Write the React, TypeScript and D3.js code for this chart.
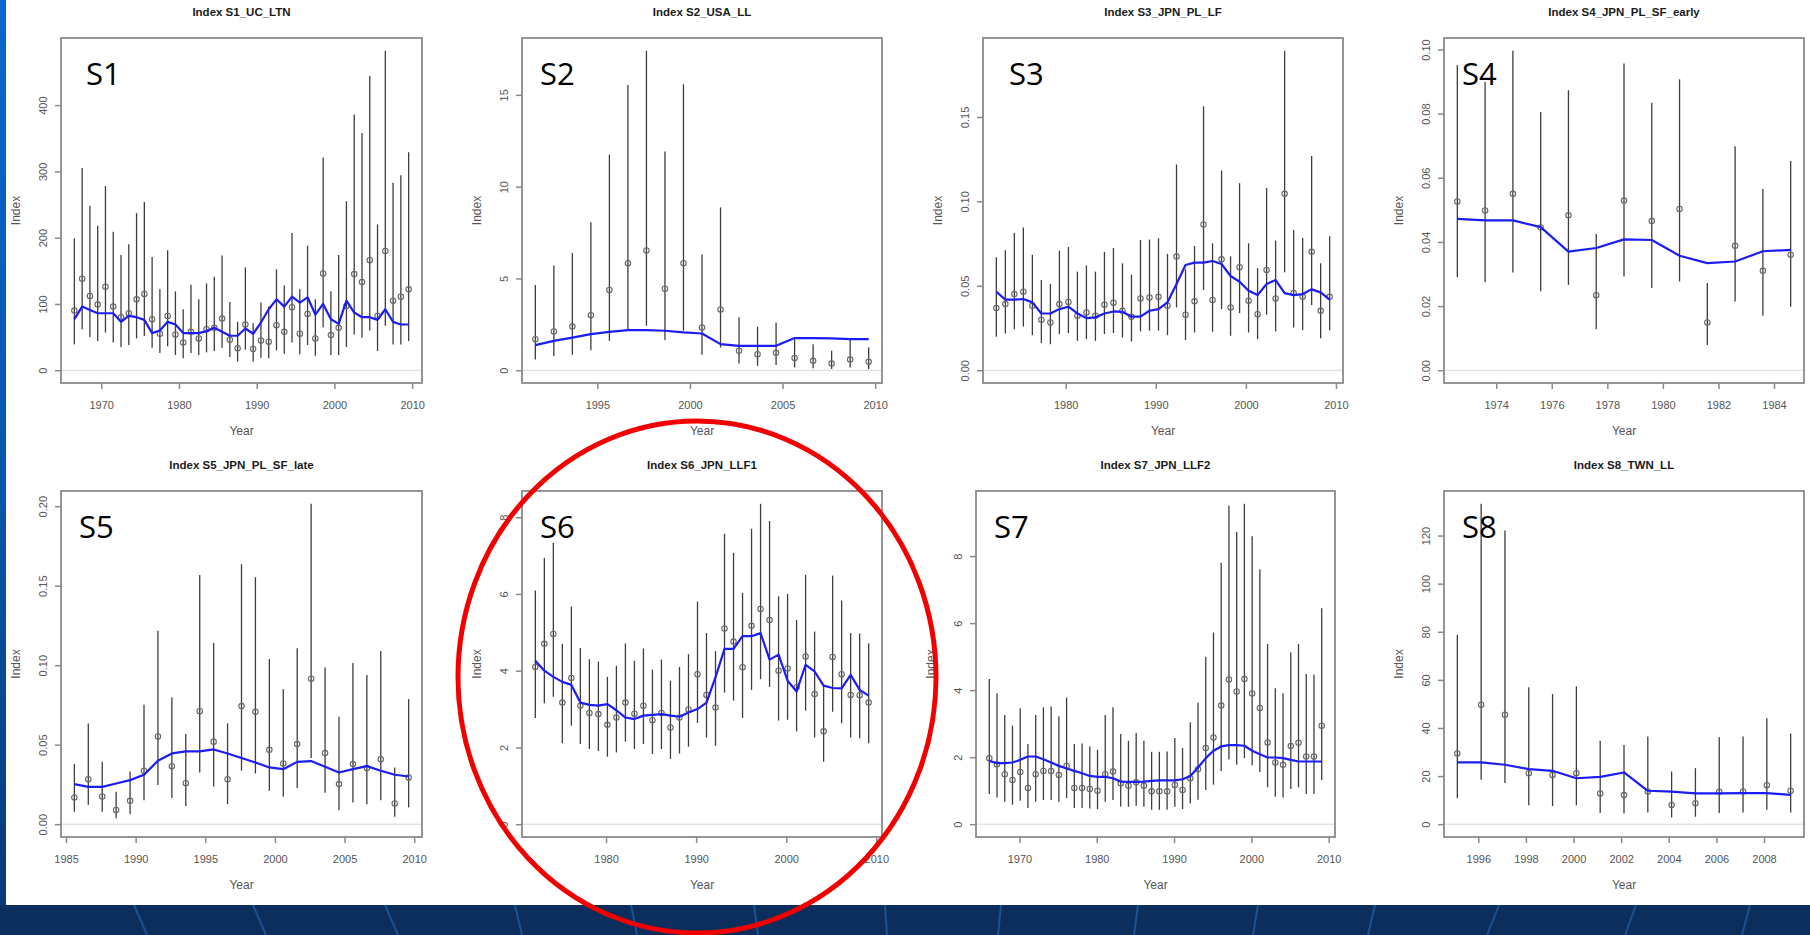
import { useEffect, useRef } from 'react';
import * as d3 from 'd3';

const WIDTH = 1810;
const HEIGHT = 935;

// S1 UC LTN, 1966-2009
const s1Start = 1966;
const s1Index = [90, 138, 112, 99, 126, 96, 80, 86, 107, 115, 77, 55, 82, 54, 42, 58, 48, 62, 64, 78, 46, 33, 69, 32, 45, 43, 68, 58, 95, 55, 85, 48, 146, 53, 64, 97, 145, 133, 166, 82, 180, 105, 111, 122];
const s1Upper = [199, 305, 248, 218, 278, 209, 174, 190, 237, 254, 171, 122, 181, 119, 92, 129, 107, 131, 141, 173, 103, 73, 155, 71, 102, 96, 152, 128, 207, 122, 188, 107, 321, 119, 174, 255, 386, 358, 444, 220, 482, 283, 294, 329];
const s1Lower = [39, 62, 50, 44, 57, 42, 35, 38, 48, 52, 34, 26, 36, 23, 18, 26, 23, 27, 29, 34, 20, 13, 31, 13, 19, 18, 30, 25, 42, 24, 38, 22, 65, 23, 23, 35, 54, 49, 60, 29, 67, 39, 39, 44];
const s1Fit = [77, 96, 91, 86, 86, 86, 73, 82, 80, 76, 56, 60, 73, 69, 56, 56, 56, 59, 64, 58, 52, 52, 63, 55, 72, 92, 107, 96, 111, 102, 110, 84, 100, 77, 70, 105, 87, 80, 80, 76, 92, 73, 69, 69];

// S2 USA LL, 1991-2009
const s2Start = 1991;
const s2Index = [1.69, 2.11, 2.38, 3.0, 4.37, 5.83, 6.52, 4.44, 5.83, 2.33, 3.31, 1.06, 0.87, 0.95, 0.67, 0.51, 0.36, 0.58, 0.46];
const s2Upper = [4.64, 5.7, 6.39, 8.06, 11.74, 15.53, 17.4, 11.92, 15.57, 6.3, 8.87, 2.88, 2.37, 2.6, 1.69, 1.42, 1.06, 1.69, 1.24];
const s2Lower = [0.58, 0.78, 0.84, 1.09, 1.6, 2.18, 2.42, 1.64, 2.15, 0.84, 1.24, 0.36, 0.24, 0.29, 0.15, 0.11, 0.07, 0.15, 0.07];
const s2Fit = [1.37, 1.6, 1.78, 1.97, 2.09, 2.18, 2.18, 2.15, 2.06, 2.0, 1.42, 1.33, 1.33, 1.33, 1.75, 1.75, 1.73, 1.69, 1.69];

// S3 JPN PL LF, 1972-2009
const s3Start = 1972;
const s3Index = [0.0368, 0.0392, 0.0451, 0.0465, 0.0382, 0.0299, 0.0283, 0.0392, 0.0404, 0.0323, 0.0342, 0.0323, 0.0388, 0.04, 0.0352, 0.0317, 0.0425, 0.0431, 0.0435, 0.0382, 0.0673, 0.0329, 0.0408, 0.0863, 0.0416, 0.0657, 0.0372, 0.061, 0.0412, 0.0332, 0.0594, 0.0425, 0.1045, 0.0457, 0.0435, 0.0701, 0.0352, 0.0435];
const s3Upper = [0.0669, 0.071, 0.0813, 0.0845, 0.0683, 0.0534, 0.0511, 0.0708, 0.073, 0.0584, 0.0621, 0.0584, 0.0701, 0.0724, 0.0633, 0.0566, 0.0772, 0.0774, 0.0782, 0.0689, 0.1219, 0.0598, 0.0736, 0.1563, 0.0752, 0.1183, 0.0675, 0.1108, 0.0752, 0.0604, 0.1079, 0.0768, 0.1892, 0.0831, 0.0784, 0.1269, 0.0633, 0.0794];
const s3Lower = [0.0198, 0.0218, 0.0243, 0.0259, 0.0208, 0.016, 0.0154, 0.0214, 0.022, 0.0174, 0.0184, 0.0174, 0.0214, 0.022, 0.0194, 0.017, 0.023, 0.0234, 0.0234, 0.0208, 0.0372, 0.0178, 0.0224, 0.0475, 0.0228, 0.0362, 0.0204, 0.0338, 0.0224, 0.0184, 0.0329, 0.023, 0.058, 0.0253, 0.0237, 0.0386, 0.019, 0.0237];
const s3Fit = [0.0465, 0.0418, 0.0418, 0.0422, 0.0402, 0.0336, 0.0336, 0.0362, 0.0376, 0.0336, 0.0309, 0.0313, 0.0336, 0.0348, 0.0346, 0.0317, 0.0317, 0.0352, 0.0362, 0.0402, 0.0511, 0.0623, 0.0637, 0.0637, 0.0647, 0.0629, 0.0558, 0.0524, 0.0471, 0.0445, 0.0511, 0.0534, 0.0457, 0.0445, 0.0451, 0.0479, 0.0461, 0.0418];

// S4 JPN PL SF early, 1972-1984
const s4Start = 1972;
const s4Index = [0.0526, 0.0498, 0.055, 0.0445, 0.0483, 0.0234, 0.0529, 0.0465, 0.0503, 0.0149, 0.0388, 0.031, 0.036];
const s4Upper = [0.0951, 0.0899, 0.0996, 0.0805, 0.0873, 0.0425, 0.0956, 0.0834, 0.0907, 0.0272, 0.0698, 0.0565, 0.0652];
const s4Lower = [0.029, 0.0274, 0.0305, 0.0246, 0.0266, 0.0128, 0.0292, 0.0256, 0.0277, 0.0079, 0.0214, 0.017, 0.0198];
const s4Fit = [0.0472, 0.0467, 0.0467, 0.0446, 0.037, 0.0381, 0.0408, 0.0406, 0.0357, 0.0334, 0.0339, 0.0371, 0.0375];

// S5 JPN PL SF late, 1985-2009
const s5Start = 1985;
const s5Index = [0.0168, 0.0283, 0.0174, 0.009, 0.0147, 0.0336, 0.0552, 0.0365, 0.0258, 0.0711, 0.0518, 0.0283, 0.0743, 0.0707, 0.0468, 0.0382, 0.0504, 0.0915, 0.0447, 0.0252, 0.0378, 0.0353, 0.0409, 0.013, 0.0294];
const s5Upper = [0.0378, 0.0634, 0.0392, 0.0204, 0.0332, 0.0751, 0.1217, 0.0797, 0.0567, 0.1568, 0.114, 0.0634, 0.1635, 0.1553, 0.1039, 0.0848, 0.1106, 0.2015, 0.0986, 0.0676, 0.1014, 0.0938, 0.1089, 0.0357, 0.0787];
const s5Lower = [0.0078, 0.0122, 0.0078, 0.0038, 0.0063, 0.0151, 0.0246, 0.0164, 0.0115, 0.0325, 0.0237, 0.0126, 0.0336, 0.0319, 0.021, 0.0172, 0.0227, 0.0416, 0.0197, 0.0088, 0.0136, 0.0126, 0.0151, 0.0046, 0.0105];
const s5Fit = [0.0252, 0.0235, 0.0235, 0.0256, 0.0277, 0.0311, 0.0399, 0.0445, 0.0458, 0.0458, 0.047, 0.0445, 0.0416, 0.0388, 0.0357, 0.0346, 0.0392, 0.0397, 0.0361, 0.0325, 0.0346, 0.0365, 0.0336, 0.0311, 0.03];

// S6 JPN LLF1, 1972-2009
const s6Start = 1972;
const s6Index = [4.1, 4.7, 4.96, 3.17, 3.81, 3.09, 2.9, 2.87, 2.59, 2.78, 3.17, 2.88, 3.09, 2.71, 2.9, 2.52, 2.78, 2.99, 3.91, 3.37, 3.04, 5.1, 4.76, 4.09, 5.17, 5.61, 5.32, 4.0, 4.06, 3.57, 4.37, 3.39, 2.42, 4.36, 3.91, 3.37, 3.36, 3.17];
const s6Upper = [6.09, 6.94, 7.33, 4.7, 5.67, 4.59, 4.3, 4.24, 3.84, 4.13, 4.71, 4.26, 4.58, 4.03, 4.29, 3.74, 4.1, 4.43, 5.8, 4.98, 4.51, 7.57, 7.07, 6.03, 7.7, 8.35, 7.9, 5.94, 6.0, 5.32, 6.5, 5.02, 3.61, 6.48, 5.83, 4.98, 4.97, 4.71];
const s6Lower = [2.77, 3.15, 3.32, 2.11, 2.57, 2.09, 1.96, 1.91, 1.76, 1.87, 2.15, 1.96, 2.09, 1.83, 1.96, 1.7, 1.84, 2.02, 2.64, 2.26, 2.04, 3.43, 3.22, 2.77, 3.5, 3.78, 3.58, 2.7, 2.72, 2.42, 2.96, 2.26, 1.63, 2.93, 2.63, 2.26, 2.24, 2.11];
const s6Fit = [4.26, 4.0, 3.84, 3.71, 3.63, 3.17, 3.11, 3.09, 3.13, 2.97, 2.78, 2.74, 2.83, 2.85, 2.87, 2.83, 2.8, 2.91, 3.0, 3.17, 3.83, 4.57, 4.57, 4.9, 4.9, 4.98, 4.29, 4.42, 3.74, 3.46, 4.15, 3.98, 3.61, 3.55, 3.54, 3.89, 3.5, 3.35];

// S7 JPN LLF2, 1966-2009
const s7Start = 1966;
const s7Index = [1.97, 1.79, 1.49, 1.32, 1.56, 1.08, 1.49, 1.59, 1.59, 1.47, 1.74, 1.08, 1.08, 1.05, 1.0, 1.49, 1.57, 1.22, 1.15, 1.25, 1.15, 0.98, 0.98, 0.98, 1.17, 1.02, 1.37, 1.64, 2.27, 2.59, 3.54, 4.32, 3.96, 4.33, 3.9, 3.47, 2.44, 1.84, 1.77, 2.33, 2.43, 2.02, 2.02, 2.94];
const s7Upper = [4.33, 3.91, 3.26, 2.94, 3.46, 2.39, 3.26, 3.49, 3.51, 3.22, 3.78, 2.39, 2.41, 2.32, 2.22, 3.26, 3.49, 2.69, 2.49, 2.72, 2.49, 2.16, 2.16, 2.17, 2.57, 2.27, 3.04, 3.62, 5.0, 5.72, 7.8, 9.51, 8.72, 9.56, 8.59, 7.6, 5.38, 4.06, 3.91, 5.13, 5.38, 4.48, 4.46, 6.44];
const s7Lower = [0.9, 0.8, 0.67, 0.58, 0.7, 0.48, 0.67, 0.72, 0.72, 0.67, 0.78, 0.48, 0.48, 0.47, 0.45, 0.67, 0.72, 0.53, 0.52, 0.55, 0.52, 0.43, 0.43, 0.43, 0.52, 0.45, 0.62, 0.73, 1.02, 1.18, 1.59, 1.94, 1.77, 1.97, 1.76, 1.56, 1.1, 0.82, 0.8, 1.05, 1.1, 0.9, 0.9, 1.32];
const s7Fit = [1.89, 1.82, 1.82, 1.84, 1.92, 2.02, 2.02, 1.94, 1.84, 1.74, 1.66, 1.59, 1.52, 1.44, 1.41, 1.41, 1.37, 1.27, 1.26, 1.26, 1.27, 1.29, 1.31, 1.31, 1.31, 1.34, 1.44, 1.69, 1.97, 2.19, 2.32, 2.36, 2.36, 2.34, 2.19, 2.09, 1.99, 1.99, 1.97, 1.92, 1.87, 1.87, 1.87, 1.87];

// S8 TWN LL, 1995-2009
const s8Start = 1995;
const s8Index = [29.4, 49.7, 45.5, 21.2, 20.5, 21.2, 12.8, 12.1, 13.6, 8.0, 8.7, 13.5, 13.6, 16.2, 13.9];
const s8Upper = [78.8, 133.2, 122.1, 56.9, 54.1, 57.3, 34.7, 32.9, 36.5, 21.9, 23.3, 36.1, 36.5, 44.0, 37.7];
const s8Lower = [10.8, 18.5, 17.1, 7.9, 7.5, 7.9, 4.6, 4.4, 4.9, 2.8, 3.1, 4.6, 4.9, 6.0, 4.9];
const s8Fit = [25.7, 25.7, 24.7, 22.9, 22.2, 19.1, 19.7, 21.5, 13.9, 13.5, 12.8, 12.8, 12.9, 12.9, 12.2];

// tick values
const s1YTicks = [0, 100, 200, 300, 400];
const s2YTicks = [0, 5, 10, 15];
const s3YTicks = [0, 0.05, 0.1, 0.15];
const s4YTicks = [0, 0.02, 0.04, 0.06, 0.08, 0.1];
const s5YTicks = [0, 0.05, 0.1, 0.15, 0.2];
const s6YTicks = [0, 2, 4, 6, 8];
const s7YTicks = [0, 2, 4, 6, 8];
const s8YTicks = [0, 20, 40, 60, 80, 100, 120];

const s1XTicks = [1970, 1980, 1990, 2000, 2010];
const s2XTicks = [1995, 2000, 2005, 2010];
const s3XTicks = [1980, 1990, 2000, 2010];
const s4XTicks = [1974, 1976, 1978, 1980, 1982, 1984];
const s5XTicks = [1985, 1990, 1995, 2000, 2005, 2010];
const s6XTicks = [1980, 1990, 2000, 2010];
const s7XTicks = [1970, 1980, 1990, 2000, 2010];
const s8XTicks = [1996, 1998, 2000, 2002, 2004, 2006, 2008];

// season = fraction of year where the survey point sits
const PANELS = [
    { key: 'S1', title: 'Index S1_UC_LTN', start: s1Start, season: 0.55, index: s1Index, upper: s1Upper, lower: s1Lower, fit: s1Fit, yTicks: s1YTicks, xTicks: s1XTicks, fmt: 'd' },
    { key: 'S2', title: 'Index S2_USA_LL', start: s2Start, season: 0.65, index: s2Index, upper: s2Upper, lower: s2Lower, fit: s2Fit, yTicks: s2YTicks, xTicks: s2XTicks, fmt: 'd' },
    { key: 'S3', title: 'Index S3_JPN_PL_LF', start: s3Start, season: 0.3, index: s3Index, upper: s3Upper, lower: s3Lower, fit: s3Fit, yTicks: s3YTicks, xTicks: s3XTicks, fmt: '.2f' },
    { key: 'S4', title: 'Index S4_JPN_PL_SF_early', start: s4Start, season: 0.6, index: s4Index, upper: s4Upper, lower: s4Lower, fit: s4Fit, yTicks: s4YTicks, xTicks: s4XTicks, fmt: '.2f' },
    { key: 'S5', title: 'Index S5_JPN_PL_SF_late', start: s5Start, season: 0.6, index: s5Index, upper: s5Upper, lower: s5Lower, fit: s5Fit, yTicks: s5YTicks, xTicks: s5XTicks, fmt: '.2f' },
    { key: 'S6', title: 'Index S6_JPN_LLF1', start: s6Start, season: 0.15, index: s6Index, upper: s6Upper, lower: s6Lower, fit: s6Fit, yTicks: s6YTicks, xTicks: s6XTicks, fmt: 'd' },
    { key: 'S7', title: 'Index S7_JPN_LLF2', start: s7Start, season: 0.1, index: s7Index, upper: s7Upper, lower: s7Lower, fit: s7Fit, yTicks: s7YTicks, xTicks: s7XTicks, fmt: 'd' },
    { key: 'S8', title: 'Index S8_TWN_LL', start: s8Start, season: 0.12, index: s8Index, upper: s8Upper, lower: s8Lower, fit: s8Fit, yTicks: s8YTicks, xTicks: s8XTicks, fmt: 'd' },
];

// plot boxes on the slide
const LAYOUT = {
    S1: { x0: 61, y0: 38, x1: 422, y1: 383, labelDx: 25 },
    S2: { x0: 522, y0: 38, x1: 882, y1: 383, labelDx: 18 },
    S3: { x0: 983, y0: 38, x1: 1343, y1: 383, labelDx: 26 },
    S4: { x0: 1444, y0: 38, x1: 1804, y1: 383, labelDx: 18 },
    S5: { x0: 61, y0: 491, x1: 422, y1: 837, labelDx: 18 },
    S6: { x0: 522, y0: 491, x1: 882, y1: 837, labelDx: 18 },
    S7: { x0: 976, y0: 491, x1: 1335, y1: 837, labelDx: 18 },
    S8: { x0: 1444, y0: 491, x1: 1804, y1: 837, labelDx: 18 },
};

// slide decoration: light stripes in the footer band (x at top, x at bottom)
const STRIPES = [
    [134, 147], [253, 266], [385, 398], [515, 522], [631, 637], [754, 758], [885, 887],
    [1001, 998], [1138, 1134], [1258, 1253], [1375, 1368], [1499, 1487], [1636, 1625], [1750, 1742],
];

const FONT = '"Liberation Sans", Arial, sans-serif';
const BOX_COLOR = '#8a8a8a';
const TEXT_COLOR = '#555';

const App = () => {
    const svgRef = useRef(null);

    useEffect(() => {
        if (!svgRef.current) return;
        const svg = d3.select(svgRef.current);
        svg.selectAll('*').remove();

        // slide background
        const defs = svg.append('defs');
        const grad = defs.append('linearGradient').attr('id', 'leftEdge').attr('x1', 0).attr('y1', 0).attr('x2', 0).attr('y2', 1);
        grad.append('stop').attr('offset', '0%').attr('stop-color', '#0b67cf');
        grad.append('stop').attr('offset', '55%').attr('stop-color', '#0a55ad');
        grad.append('stop').attr('offset', '100%').attr('stop-color', '#083a78');

        svg.append('rect').attr('width', WIDTH).attr('height', HEIGHT).attr('fill', '#0b2e5c');
        svg.append('g')
            .selectAll('line')
            .data(STRIPES)
            .join('line')
            .attr('x1', (d) => d[0])
            .attr('x2', (d) => d[1])
            .attr('y1', 905)
            .attr('y2', HEIGHT)
            .attr('stroke', '#1c5292')
            .attr('stroke-width', 2);
        svg.append('rect').attr('x', 0).attr('y', 0).attr('width', 6).attr('height', 905).attr('fill', 'url(#leftEdge)');
        svg.append('rect').attr('x', 6).attr('y', 0).attr('width', WIDTH - 6).attr('height', 905).attr('fill', '#ffffff');

        PANELS.forEach((p) => {
            const box = LAYOUT[p.key];
            const years = p.index.map((_, i) => p.start + i + p.season);
            const [xMin, xMax] = d3.extent(years);
            const xPad = (xMax - xMin) * 0.04;
            const x = d3.scaleLinear().domain([xMin - xPad, xMax + xPad]).range([box.x0, box.x1]);
            const yMax = d3.max(p.upper);
            const y = d3.scaleLinear().domain([-0.04 * yMax, 1.04 * yMax]).range([box.y1, box.y0]);

            const rows = years.map((yr, i) => ({ yr, v: p.index[i], hi: p.upper[i], lo: p.lower[i], fit: p.fit[i] }));

            const g = svg.append('g').attr('class', 'panel-' + p.key);

            // zero reference
            g.append('line')
                .attr('x1', box.x0)
                .attr('x2', box.x1)
                .attr('y1', y(0))
                .attr('y2', y(0))
                .attr('stroke', '#d6d6d6')
                .attr('stroke-width', 1);

            // confidence bars
            g.selectAll('line.ci')
                .data(rows)
                .join('line')
                .attr('class', 'ci')
                .attr('x1', (d) => x(d.yr))
                .attr('x2', (d) => x(d.yr))
                .attr('y1', (d) => y(d.lo))
                .attr('y2', (d) => y(d.hi))
                .attr('stroke', '#3d3d3d')
                .attr('stroke-width', 1.3);

            // observed index
            g.selectAll('circle')
                .data(rows)
                .join('circle')
                .attr('cx', (d) => x(d.yr))
                .attr('cy', (d) => y(d.v))
                .attr('r', 2.7)
                .attr('fill', 'none')
                .attr('stroke', '#666')
                .attr('stroke-width', 1.1);

            // model fit
            const line = d3
                .line()
                .x((d) => x(d.yr))
                .y((d) => y(d.fit));
            g.append('path')
                .datum(rows)
                .attr('fill', 'none')
                .attr('stroke', '#1c1cf5')
                .attr('stroke-width', 2.2)
                .attr('stroke-linejoin', 'round')
                .attr('d', line);

            // frame
            g.append('rect')
                .attr('x', box.x0)
                .attr('y', box.y0)
                .attr('width', box.x1 - box.x0)
                .attr('height', box.y1 - box.y0)
                .attr('fill', 'none')
                .attr('stroke', BOX_COLOR)
                .attr('stroke-width', 1.8);

            // x axis
            const xAxis = g
                .append('g')
                .attr('transform', `translate(0,${box.y1})`)
                .call(d3.axisBottom(x).tickValues(p.xTicks).tickSize(6).tickPadding(12).tickFormat(d3.format('d')));
            xAxis.select('.domain').remove();
            xAxis.selectAll('.tick line').attr('stroke', BOX_COLOR).attr('stroke-width', 1.5);
            xAxis.selectAll('.tick text').attr('fill', TEXT_COLOR).attr('font-size', 11).attr('font-family', FONT);

            // y axis, labels rotated like base R
            const yAxis = g
                .append('g')
                .attr('transform', `translate(${box.x0},0)`)
                .call(d3.axisLeft(y).tickValues(p.yTicks).tickSize(6).tickFormat(d3.format(p.fmt)));
            yAxis.select('.domain').remove();
            yAxis.selectAll('.tick line').attr('stroke', BOX_COLOR).attr('stroke-width', 1.5);
            yAxis
                .selectAll('.tick text')
                .attr('x', null)
                .attr('dy', null)
                .attr('text-anchor', 'middle')
                .attr('transform', 'translate(-14,0) rotate(-90)')
                .attr('fill', TEXT_COLOR)
                .attr('font-size', 11)
                .attr('font-family', FONT);

            // titles
            const cx = (box.x0 + box.x1) / 2;
            g.append('text')
                .attr('x', cx)
                .attr('y', box.y0 - 22)
                .attr('text-anchor', 'middle')
                .attr('font-family', FONT)
                .attr('font-weight', 'bold')
                .attr('font-size', 11.5)
                .attr('fill', '#1a1a1a')
                .text(p.title);
            g.append('text')
                .attr('x', cx)
                .attr('y', box.y1 + 52)
                .attr('text-anchor', 'middle')
                .attr('font-family', FONT)
                .attr('font-size', 12)
                .attr('fill', TEXT_COLOR)
                .text('Year');
            g.append('text')
                .attr('transform', `translate(${box.x0 - 41},${(box.y0 + box.y1) / 2}) rotate(-90)`)
                .attr('text-anchor', 'middle')
                .attr('font-family', FONT)
                .attr('font-size', 12)
                .attr('fill', TEXT_COLOR)
                .text('Index');

            // big panel tag
            g.append('text')
                .attr('x', box.x0 + box.labelDx)
                .attr('y', box.y0 + 47)
                .attr('font-family', '"Open Sans", "DejaVu Sans", sans-serif')
                .attr('font-size', 31)
                .attr('fill', '#000')
                .text(p.key);
        });

        // highlight ring around S6
        svg.append('ellipse')
            .attr('cx', 697)
            .attr('cy', 677)
            .attr('rx', 239)
            .attr('ry', 256)
            .attr('fill', 'none')
            .attr('stroke', '#f20000')
            .attr('stroke-width', 5);
    }, []);

    return <svg ref={svgRef} width={WIDTH} height={HEIGHT} style={{ position: 'absolute', left: 0, top: 0, display: 'block' }}></svg>;
};

export default App;
